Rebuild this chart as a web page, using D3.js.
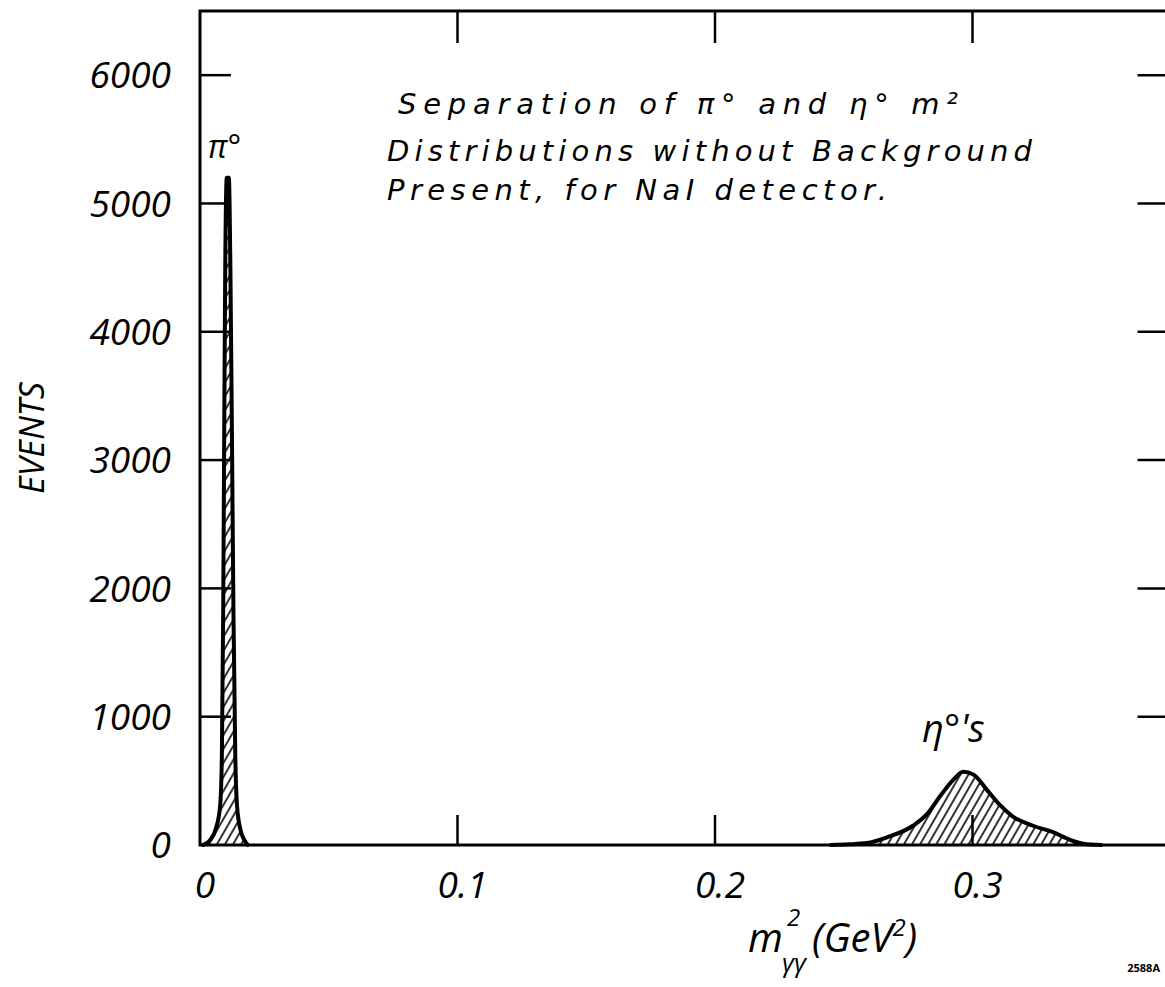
<!DOCTYPE html>
<html>
<head>
<meta charset="utf-8">
<script src="https://cdn.jsdelivr.net/npm/d3@7"></script>
<style>
  body { margin: 0; background: #fff; }
  svg { display: block; }
  text { font-family: "Open Sans", "DejaVu Sans", sans-serif; font-style: italic; fill: #000; }
  text.note { font-family: "DejaVu Sans", sans-serif; }
</style>
</head>
<body>
<div id="chart"></div>
<script>
// tick values
var xTicks = [0, 0.1, 0.2, 0.3];
var xTickLabels = ["0", "0.1", "0.2", "0.3"];
var yTicks = [0, 1000, 2000, 3000, 4000, 5000, 6000];
var yTickLabels = ["0", "1000", "2000", "3000", "4000", "5000", "6000"];

// pi0 peak (m^2 in GeV^2, events)
var pi0Mass2  = [0.0012, 0.0040, 0.0062, 0.0078, 0.0085, 0.0090, 0.0094, 0.0098, 0.0104, 0.0112, 0.0118, 0.0124, 0.0130, 0.0137, 0.0144, 0.0157, 0.0172, 0.0185];
var pi0Events = [0, 40, 130, 300, 700, 1800, 3200, 4500, 5200, 5200, 4500, 3200, 1800, 700, 300, 120, 40, 0];

// eta peak
var etaMass2  = [0.245, 0.252, 0.259, 0.2668, 0.2769, 0.2823, 0.2874, 0.2926, 0.2964, 0.3003, 0.3056, 0.3107, 0.3158, 0.3235, 0.3313, 0.3379, 0.3430, 0.350];
var etaEvents = [0, 5, 15, 60, 150, 240, 380, 510, 570, 550, 430, 310, 220, 150, 100, 40, 10, 0];

var titleLines = ["Separation of \u03C0\u00B0 and \u03B7\u00B0 m\u00B2",
                  "Distributions without Background",
                  "Present, for NaI detector."];

var W = 1165, H = 987;
var svg = d3.select("#chart").append("svg")
    .attr("width", W)
    .attr("height", H);

var x = d3.scaleLinear().domain([0, 0.38]).range([200, 1178.5]);
var y = d3.scaleLinear().domain([0, 6500]).range([845, 11]);

var defs = svg.append("defs");
defs.append("pattern")
    .attr("id", "hatch")
    .attr("patternUnits", "userSpaceOnUse")
    .attr("width", 7).attr("height", 7)
    .attr("patternTransform", "rotate(30)")
  .append("line")
    .attr("x1", 1).attr("y1", 0).attr("x2", 1).attr("y2", 7)
    .attr("stroke", "#000").attr("stroke-width", 1.6);

// frame
svg.append("rect")
    .attr("x", x(0)).attr("y", y(6500))
    .attr("width", x(0.38) - x(0)).attr("height", y(0) - y(6500))
    .attr("fill", "none").attr("stroke", "#000").attr("stroke-width", 3);

// ticks: inward on all four sides
var g = svg.append("g");
g.selectAll(".ytl").data(yTicks.slice(1)).enter().append("line")
    .attr("x1", x(0)).attr("x2", x(0) + 31)
    .attr("y1", function(d) { return y(d); }).attr("y2", function(d) { return y(d); })
    .attr("stroke", "#000").attr("stroke-width", 2.5);
g.selectAll(".ytr").data(yTicks.slice(1)).enter().append("line")
    .attr("x1", x(0.38)).attr("x2", x(0.38) - 41)
    .attr("y1", function(d) { return y(d); }).attr("y2", function(d) { return y(d); })
    .attr("stroke", "#000").attr("stroke-width", 2.5);
g.selectAll(".xtb").data(xTicks.slice(1)).enter().append("line")
    .attr("x1", function(d) { return x(d); }).attr("x2", function(d) { return x(d); })
    .attr("y1", y(0)).attr("y2", y(0) - 30)
    .attr("stroke", "#000").attr("stroke-width", 2.5);
g.selectAll(".xtt").data(xTicks.slice(1)).enter().append("line")
    .attr("x1", function(d) { return x(d); }).attr("x2", function(d) { return x(d); })
    .attr("y1", y(6500)).attr("y2", y(6500) + 32)
    .attr("stroke", "#000").attr("stroke-width", 2.5);

// tick labels
svg.selectAll(".ylab").data(yTicks).enter().append("text")
    .attr("x", 171)
    .attr("y", function(d) { return y(d); })
    .attr("dy", "0.36em")
    .attr("text-anchor", "end")
    .style("font-size", "37px")
    .text(function(d, i) { return yTickLabels[i]; });

svg.selectAll(".xlab").data(xTicks).enter().append("text")
    .attr("x", function(d) { return x(d) + 5; })
    .attr("y", 898)
    .attr("text-anchor", "middle")
    .style("font-size", "37px")
    .text(function(d, i) { return xTickLabels[i]; });

// peaks
var area = d3.area()
    .x(function(d) { return x(d[0]); })
    .y0(y(0))
    .y1(function(d) { return y(d[1]); })
    .curve(d3.curveMonotoneX);
var line = d3.line()
    .x(function(d) { return x(d[0]); })
    .y(function(d) { return y(d[1]); })
    .curve(d3.curveMonotoneX);

var pi0 = d3.zip(pi0Mass2, pi0Events);
var eta = d3.zip(etaMass2, etaEvents);

[pi0, eta].forEach(function(s) {
  svg.append("path").datum(s)
      .attr("d", area)
      .attr("fill", "url(#hatch)");
  svg.append("path").datum(s)
      .attr("d", line)
      .attr("fill", "none")
      .attr("stroke", "#000")
      .attr("stroke-width", 4)
      .attr("stroke-linejoin", "round")
      .attr("stroke-linecap", "round");
});

// axis titles
svg.append("text")
    .attr("transform", "translate(44,438) rotate(-90)")
    .attr("text-anchor", "middle")
    .style("font-size", "34px")
    .text("EVENTS");

// m^2_{γγ} (GeV^2) built from separate pieces
svg.append("text").attr("x", 748).attr("y", 952)
    .style("font-size", "40px").text("m");
svg.append("text").attr("x", 787).attr("y", 926)
    .style("font-size", "24px").text("2");
svg.append("text").attr("x", 782).attr("y", 972)
    .style("font-size", "26px").text("\u03B3\u03B3");
svg.append("text").attr("x", 812).attr("y", 952)
    .style("font-size", "40px")
    .text("(GeV")
  .append("tspan").attr("dy", -16).style("font-size", "24px").text("2")
  .select(function() { return this.parentNode; })
  .append("tspan").attr("dy", 16).text(")");

// annotation
svg.selectAll(".note").data(titleLines).enter().append("text")
    .attr("class", "note")
    .attr("x", function(d, i) { return i === 0 ? 398 : 387; })
    .attr("y", function(d, i) { return [114, 161, 200][i]; })
    .attr("textLength", function(d, i) { return [560, 645, 500][i]; })
    .attr("lengthAdjust", "spacing")
    .style("font-size", "29px")
    .text(function(d) { return d; });

// peak labels
svg.append("text").attr("x", 208).attr("y", 158)
    .style("font-size", "32px").text("\u03C0\u00B0");
svg.append("text").attr("x", 922).attr("y", 742)
    .style("font-size", "38px").text("\u03B7\u00B0's");

// figure number
svg.append("text").attr("x", 1160).attr("y", 972)
    .attr("text-anchor", "end")
    .style("font-style", "normal").style("font-weight", "bold")
    .style("font-size", "11px")
    .text("2588A");
</script>
</body>
</html>
